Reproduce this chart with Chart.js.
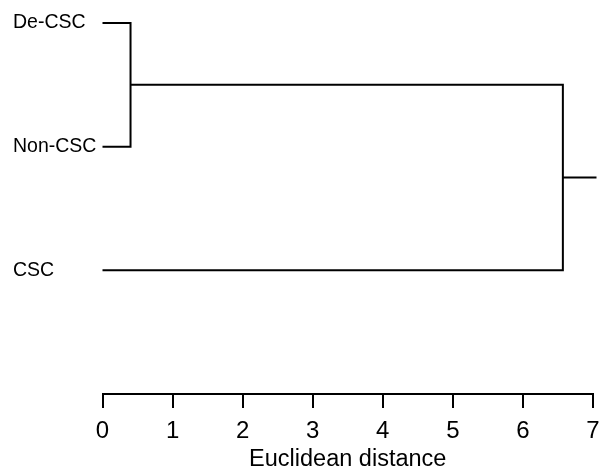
<!DOCTYPE html>
<html>
<head>
<meta charset="utf-8">
<script src="https://cdn.jsdelivr.net/npm/chart.js@4"></script>
<style>
  body { margin: 0; background: #fff; }
  #wrap { width: 605px; height: 469px; }
</style>
</head>
<body>
<div id="wrap"><canvas id="tree"></canvas></div>
<script>
// leaves, top to bottom
const leafLabels = ['De-CSC', 'Non-CSC', 'CSC'];
// linkage: node ids 0..2 are leaves, merge i creates node 3 + i
const linkA = [0, 3];
const linkB = [1, 2];
const linkHeight = [0.4, 6.57];
const rootEnd = 7.05;
const distanceTicks = [0, 1, 2, 3, 4, 5, 6, 7];

// position (row) and height of every node
const nodePos = leafLabels.map((_, i) => i);
const nodeHeight = leafLabels.map(() => 0);
const segments = [];
linkHeight.forEach((h, i) => {
  const a = linkA[i], b = linkB[i];
  segments.push([
    { x: nodeHeight[a], y: nodePos[a] },
    { x: h, y: nodePos[a] },
    { x: h, y: nodePos[b] },
    { x: nodeHeight[b], y: nodePos[b] },
  ]);
  nodePos.push((nodePos[a] + nodePos[b]) / 2);
  nodeHeight.push(h);
});
const root = nodePos.length - 1;
segments.push([
  { x: nodeHeight[root], y: nodePos[root] },
  { x: rootEnd, y: nodePos[root] },
]);

const datasets = segments.map(pts => ({
  data: pts,
  showLine: true,
  borderColor: '#000',
  borderWidth: 2,
  pointRadius: 0,
  tension: 0,
  clip: false,
}));

Chart.defaults.font.family = '"Liberation Sans", Arial, sans-serif';
Chart.defaults.color = '#000';

new Chart(document.getElementById('tree'), {
  type: 'scatter',
  data: { datasets },
  options: {
    animation: false,
    responsive: true,
    maintainAspectRatio: false,
    layout: { padding: { left: 13, right: 12, top: 23, bottom: 0 } },
    plugins: { legend: { display: false }, tooltip: { enabled: false } },
    scales: {
      x: {
        type: 'linear',
        min: distanceTicks[0],
        max: distanceTicks[distanceTicks.length - 1],
        afterFit: (scale) => { scale.height = 75; },
        afterBuildTicks: (scale) => { scale.ticks = distanceTicks.map(v => ({ value: v })); },
        grid: {
          display: true,
          drawOnChartArea: false,
          drawTicks: true,
          tickLength: 14,
          color: '#000',
          lineWidth: 2,
        },
        border: { display: true, color: '#000', width: 2 },
        // tall line box keeps the digits low without widening the side padding
        ticks: { font: { size: 24, lineHeight: 1.96 }, padding: 0, color: '#000' },
        title: {
          display: true,
          text: 'Euclidean distance',
          font: { size: 23.5, lineHeight: 0.8 },
          padding: { top: 0, bottom: 0 },
          color: '#000',
        },
      },
      y: {
        type: 'linear',
        reverse: true,
        min: 0,
        max: 3,
        afterFit: (scale) => { scale.width = 89.5; },
        grid: { display: false },
        border: { display: false },
        ticks: {
          stepSize: 1,
          crossAlign: 'far',
          font: { size: 19.5 },
          color: '#000',
          callback: (v) => leafLabels[v] || '',
        },
      },
    },
  },
});
</script>
</body>
</html>
